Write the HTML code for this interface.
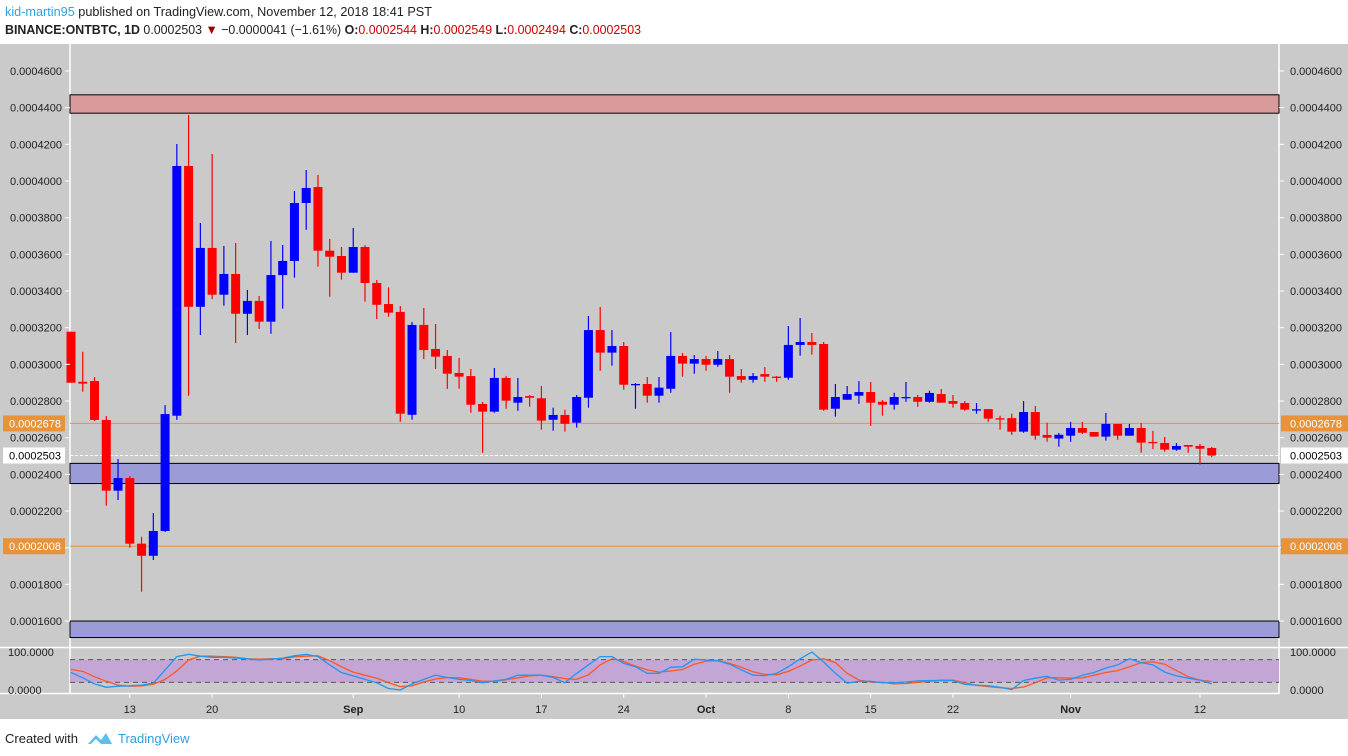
<!DOCTYPE html>
<html><head><meta charset="utf-8">
<style>
body{margin:0;background:#fff;width:1348px;height:756px;overflow:hidden;font-family:"Liberation Sans",sans-serif;}
svg{display:block}
</style></head>
<body>
<svg id="c" width="1348" height="756" xmlns="http://www.w3.org/2000/svg">
  <rect x="0" y="0" width="1348" height="44" fill="#fff"/>
  <text x="5" y="16" font-size="13" fill="#222" textLength="427" lengthAdjust="spacingAndGlyphs"><tspan fill="#2fa1e0">kid-martin95</tspan> published on TradingView.com, November 12, 2018 18:41 PST</text>
  <text x="5" y="34" font-size="13" fill="#222" textLength="636" lengthAdjust="spacingAndGlyphs"><tspan font-weight="bold">BINANCE:ONTBTC, 1D</tspan> 0.0002503 <tspan fill="#9b0000">▼</tspan> −0.0000041 (−1.61%) <tspan font-weight="bold">O:</tspan><tspan fill="#c00">0.0002544</tspan> <tspan font-weight="bold">H:</tspan><tspan fill="#c00">0.0002549</tspan> <tspan font-weight="bold">L:</tspan><tspan fill="#c00">0.0002494</tspan> <tspan font-weight="bold">C:</tspan><tspan fill="#c00">0.0002503</tspan></text>
  <rect x="0" y="44" width="1348" height="675" fill="#cacaca"/>
  <line x1="70" y1="44" x2="70" y2="694" stroke="#fff" stroke-width="1.5"/>
  <line x1="1279" y1="44" x2="1279" y2="694" stroke="#fff" stroke-width="1.5"/>
  <line x1="0" y1="647.5" x2="1348" y2="647.5" stroke="#fff" stroke-width="1.5"/>
  <line x1="0" y1="693.5" x2="1279" y2="693.5" stroke="#fff" stroke-width="1.5"/>
  <g id="zones"></g>
  <g id="candles"></g>
  <g id="stoch"></g>
  <g id="axes"></g>
  <text x="5" y="743" font-size="13" fill="#222">Created with</text>
  <g>
    <path d="M88 744 L96 735 L101 740 L106 733 L112 744 Z" fill="#5bc0eb"/>
    <path d="M91 744 L96 739 L101 744 Z" fill="#fff"/>
  </g>
  <text x="118" y="743" font-size="13" fill="#2fa1e0">TradingView</text>
</svg>
<script>
const opens=[3178,2905,2909,2697,2311,2380,2022,1956,2091,2720,4082,3314,3635,3380,3493,3276,3346,3233,3487,3564,3880,3967,3620,3591,3500,3640,3444,3329,3286,2725,3215,3084,3046,2953,2936,2784,2742,2926,2791,2827,2815,2698,2724,2682,2818,3187,3064,3100,2889,2893,2829,2867,3046,3004,3029,2998,3029,2936,2916,2947,2933,2927,3106,3122,3111,2758,2807,2829,2849,2796,2780,2818,2822,2796,2838,2800,2789,2751,2756,2706,2707,2633,2740,2615,2595,2611,2653,2631,2606,2675,2611,2653,2577,2571,2535,2560,2555,2544];
const highs=[3178,3069,2931,2718,2484,2391,2060,2189,2778,4202,4360,3771,4147,3646,3662,3406,3373,3673,3651,3946,4060,4033,3684,3640,3744,3650,3460,3420,3318,3231,3307,3220,3078,3035,2975,2795,2980,2937,2926,2833,2882,2764,2753,2833,3264,3313,3187,3122,2898,2931,2931,3176,3062,3051,3046,3073,3051,2975,2953,2985,2936,3209,3253,3171,3122,2893,2882,2909,2904,2806,2845,2904,2833,2856,2866,2833,2800,2789,2756,2720,2731,2800,2773,2682,2626,2686,2686,2631,2735,2675,2675,2680,2637,2604,2571,2560,2566,2549];
const lows=[2900,2851,2691,2229,2260,2000,1760,1933,2086,2697,2829,3160,3356,3320,3116,3160,3193,3167,3304,3473,3734,3533,3369,3462,3500,3342,3247,3260,2687,2698,3029,2975,2866,2867,2736,2518,2736,2758,2747,2769,2644,2638,2633,2655,2764,2965,2993,2862,2758,2791,2791,2845,2933,2949,2965,2987,2845,2900,2900,2905,2905,2916,3047,3053,2747,2715,2807,2785,2665,2720,2753,2796,2769,2791,2791,2764,2747,2731,2687,2644,2616,2627,2589,2578,2551,2578,2620,2606,2584,2589,2611,2518,2538,2524,2529,2518,2453,2494];
const closes=[2900,2895,2697,2311,2380,2022,1956,2091,2729,4082,3314,3635,3380,3493,3276,3346,3233,3487,3564,3880,3962,3620,3587,3500,3640,3444,3325,3282,2731,3215,3078,3042,2949,2933,2780,2742,2926,2802,2822,2818,2693,2724,2676,2822,3187,3064,3100,2889,2893,2829,2873,3046,3004,3029,2998,3029,2933,2916,2936,2933,2929,3106,3122,3106,2753,2822,2838,2849,2791,2780,2822,2822,2796,2844,2791,2785,2753,2755,2704,2702,2633,2740,2611,2600,2616,2653,2627,2606,2675,2611,2653,2573,2573,2535,2555,2551,2540,2503];
const stochK=[46,32,16,7,10,11,13,18,53,88,94,89,86,86,84,82,79,81,84,90,94,88,66,46,37,28,19,4,0,16,28,39,33,28,25,19,24,28,39,39,39,33,19,44,66,88,88,70,61,44,44,60,61,81,79,77,68,53,39,38,44,61,82,100,74,44,18,23,23,19,19,21,24,25,25,25,15,13,11,7,1,25,31,36,26,28,39,46,58,66,82,72,66,47,37,31,26,16];
const stochD=[54,49,35,23,13,10,11,15,28,50,79,89,89,88,86,82,81,82,82,87,89,90,77,61,47,39,31,19,9,11,21,29,33,32,28,23,23,27,32,37,39,35,30,28,40,66,82,75,63,53,47,50,54,68,76,77,70,60,48,41,40,49,63,79,82,72,44,26,21,20,16,17,20,23,26,26,19,12,9,6,4,8,19,32,32,31,32,39,46,51,61,72,74,68,51,35,26,22];
const priceTicks=[4600,4400,4200,4000,3800,3600,3400,3200,3000,2800,2600,2400,2200,2000,1800,1600];
const dateLabels=["13","20","Sep","10","17","24","Oct","8","15","22","Nov","12"];
const dateIdx=[5,12,24,33,40,47,54,61,68,75,85,96];
const resistZone=[4370,4470];
const supportZones=[[2350,2460],[1510,1600]];
const hLines=[2678,2008];
const lastPrice=2503;

const NS="http://www.w3.org/2000/svg";
function mk(t,a,p){const e=document.createElementNS(NS,t);for(const k in a)e.setAttribute(k,a[k]);p.appendChild(e);return e;}
function yP(v){return 71+(4600-v)/200*36.67;}
function xI(i){return 71+i*11.76;}
function yS(v){return 690-v*0.38;}
const fmt=v=>"0.000"+String(Math.round(v)).padStart(4,"0");

const zones=document.getElementById('zones');
let z=mk('rect',{x:70,y:yP(resistZone[1]),width:1209,height:yP(resistZone[0])-yP(resistZone[1]),fill:'#d89a9a',stroke:'#000','stroke-width':1},zones);


supportZones.forEach((s,k)=>{
  const r=mk('rect',{x:70,y:yP(s[1]),width:1209,height:yP(s[0])-yP(s[1]),fill:'#9b9bd8',stroke:'#000','stroke-width':1},zones);
  
  
});
hLines.forEach(v=>{
  const l=mk('line',{x1:70,x2:1279,y1:yP(v),y2:yP(v),stroke:'#e8923a','stroke-width':1},zones);
  
  
});
const pl=mk('line',{x1:70,x2:1279,y1:yP(lastPrice),y2:yP(lastPrice),stroke:'#fff','stroke-width':1,'stroke-dasharray':'3,2'},zones);



const cg=document.getElementById('candles');
opens.forEach((o,i)=>{
  const c=closes[i],x=xI(i),col=c>=o?'#0000ff':'#ff0000';
  const g=mk('g',{},cg);
  
  
  mk('line',{x1:x,x2:x,y1:yP(highs[i]),y2:yP(lows[i]),stroke:col,'stroke-width':1.2},g);
  const top=yP(Math.max(o,c)),bot=yP(Math.min(o,c));
  mk('rect',{x:x-4.5,y:top,width:9,height:Math.max(bot-top,1.3),fill:col},g);
});

const sg=document.getElementById('stoch');
const band=mk('rect',{x:70,y:yS(80),width:1209,height:yS(20)-yS(80),fill:'#c3a6d6'},sg);


[80,20].forEach(v=>{
  const l=mk('line',{x1:70,x2:1279,y1:yS(v),y2:yS(v),stroke:'#555','stroke-width':1,'stroke-dasharray':'5,4'},sg);
  
  
});
const dP=stochD.map((v,i)=>xI(i).toFixed(1)+','+yS(v).toFixed(1)).join(' ');
const kP=stochK.map((v,i)=>xI(i).toFixed(1)+','+yS(v).toFixed(1)).join(' ');
const dl=mk('polyline',{points:dP,fill:'none',stroke:'#ff5722','stroke-width':1.3},sg);


const kl=mk('polyline',{points:kP,fill:'none',stroke:'#2196f3','stroke-width':1.3},sg);



const ag=document.getElementById('axes');
priceTicks.forEach(v=>{
  const y=yP(v);
  const t1=mk('text',{x:10,y:y+4,'font-size':11,fill:'#222'},ag);t1.textContent=fmt(v);
  
  
  const t2=mk('text',{x:1290,y:y+4,'font-size':11,fill:'#222'},ag);t2.textContent=fmt(v);
  
  
  mk('line',{x1:1279,x2:1284,y1:y,y2:y,stroke:'#fff'},ag);
  mk('line',{x1:65,x2:70,y1:y,y2:y,stroke:'#fff'},ag);
});
function badge(v,bg,fg,name){
  const y=yP(v);
  [[3,62],[1281,67]].forEach(([x,w],k)=>{
    const g=mk('g',{},ag);
    
    
    mk('rect',{x:x,y:y-8,width:w,height:16,fill:bg},g);
    const t=mk('text',{x:x+(k?9:6),y:y+4,'font-size':11,fill:fg},g);t.textContent=fmt(v);
  });
}
badge(2678,'#e8923a','#fff','level-badge-2678');
badge(2008,'#e8923a','#fff','level-badge-2008');
badge(lastPrice,'#fff','#000','last-price-badge');
[[100,'100.0000'],[0,'0.0000']].forEach(([v,s])=>{
  const t1=mk('text',{x:8,y:yS(v)+4,'font-size':11,fill:'#222'},ag);t1.textContent=s;
  
  
  const t2=mk('text',{x:1290,y:yS(v)+4,'font-size':11,fill:'#222'},ag);t2.textContent=s;
  
  
});
dateLabels.forEach((s,k)=>{
  const x=xI(dateIdx[k]);
  mk('line',{x1:x,x2:x,y1:693,y2:698,stroke:'#fff'},ag);
  const bold=/[A-Z]/.test(s);
  const t=mk('text',{x:x,y:713,'font-size':11,fill:'#222','text-anchor':'middle','font-weight':bold?'bold':'normal'},ag);
  t.textContent=s;
  
  
});
</script>
</body></html>
